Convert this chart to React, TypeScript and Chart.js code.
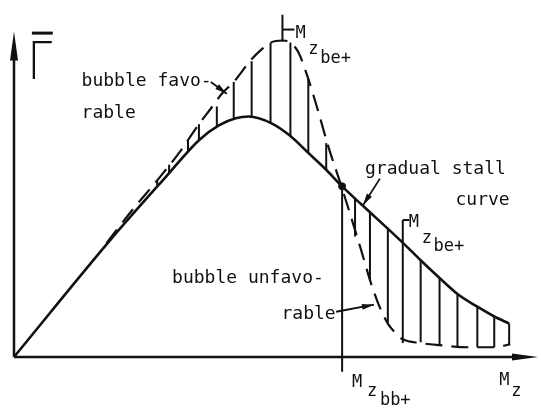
import React, { useEffect, useRef } from "react";
import { Chart, registerables } from "chart.js";

Chart.register(...registerables);

const INK = "#111111";

// Gradual stall curve: circulation Γ against Mz
const stallMz = [0, 19.6, 30.6, 37.2, 41.2, 44.6, 47.2, 51.8, 55.6, 59.2, 62.8, 65.8, 69.8, 74.8, 78.6, 81.8, 85.6, 89.2, 93.2, 96.6, 99.6];
const stallGamma = [0, 40, 61, 73.3, 78.3, 80.7, 81.3, 79, 74.7, 69, 63.3, 58, 51.7, 44, 38, 32.7, 26.7, 21.3, 17, 13.7, 11.3];

// Bubble curve (dashed)
const bubbleMz = [18.6, 23.8, 28.8, 33.2, 37.2, 39.6, 41.8, 44.2, 47.6, 49.8, 51.6, 54, 55.6, 57.2, 59.2, 61.2, 63.2, 65.8, 67.8, 69.8, 71.8, 73.6, 75.2, 76.8, 78.2, 81.8, 85.6, 91.2, 96.6, 99.8];
const bubbleGamma = [38.5, 49.7, 59.7, 69, 78.7, 84, 89, 93, 100.3, 104, 106.3, 107, 106.3, 103, 94, 83, 71.3, 58, 47.3, 36.3, 25, 16.7, 11.3, 8, 6, 4.7, 4, 3.3, 3.3, 4.3];

// Hatching, bubble favorable (bubble curve above stall curve)
const favHatchMz = [28.8, 31.2, 35, 37.2, 40.8, 44.2, 47.8, 51.6, 55.6, 59.2, 62.8];
const favHatchLow = [57.6, 62, 69.7, 73.3, 78, 80.5, 81.2, 79.3, 74.7, 69, 63.3];
const favHatchHigh = [59.7, 65, 73, 78.7, 84.7, 93, 100, 106.3, 106.3, 94, 72.3];

// Hatching, bubble unfavorable (bubble curve below stall curve)
const unfavHatchMz = [68.6, 71.6, 75.2, 81.8, 85.6, 89.2, 93.2, 96.6, 99.6];
const unfavHatchHigh = [53.5, 48.9, 43.4, 32.7, 26.7, 21.3, 17, 13.7, 11.3];
const unfavHatchLow = [40.7, 26.3, 11.7, 5, 4, 3.7, 3.3, 3.3, 4];

// Characteristic Mz values
const mzBb = 66;
const mzBbGamma = 57.7;
const mzBbFoot = -5;
const mzBeUpper = 54;
const mzBeUpperSpan = [106.7, 115.7];
const mzBeLower = 78.2;
const mzBeLowerSpan = [4.7, 46.3];

// Axis extents
const xAxisEnd = 105;
const yAxisEnd = 110;

type Piece = { text: string; x: number; y: number; size: number };

const textPieces: Piece[] = [
  { text: "bubble favo-", x: 13.6, y: 91.7, size: 18 },
  { text: "rable", x: 13.6, y: 80.7, size: 18 },
  { text: "gradual stall", x: 70.6, y: 61.7, size: 18 },
  { text: "curve", x: 88.8, y: 51.3, size: 18 },
  { text: "bubble unfavo-", x: 31.8, y: 25, size: 18 },
  { text: "rable", x: 53.8, y: 13, size: 18 },
  // Mz_be+ (upper)
  { text: "M", x: 56.6, y: 107.7, size: 17 },
  { text: "z", x: 59.2, y: 102.3, size: 17 },
  { text: "be+", x: 61.6, y: 99.3, size: 17 },
  // Mz_be+ (lower)
  { text: "M", x: 79.4, y: 44, size: 17 },
  { text: "z", x: 82, y: 38.7, size: 17 },
  { text: "be+", x: 84.4, y: 35.7, size: 17 },
  // Mz_bb+
  { text: "M", x: 68, y: -10, size: 17 },
  { text: "z", x: 71, y: -13.3, size: 17 },
  { text: "bb+", x: 73.6, y: -16.3, size: 17 },
  // Axis title Mz
  { text: "M", x: 97.6, y: -9.3, size: 17 },
  { text: "z", x: 100, y: -13.3, size: 17 },
];

// Pointer arrows from the captions to the curves
const pointers = [
  { from: [39.6, 93], to: [42.8, 89] },
  { from: [73.6, 60.3], to: [70.2, 51.3] },
  { from: [64.8, 15.3], to: [72.4, 17.7] },
];

const pts = (xs: number[], ys: number[]) => xs.map((x, i) => ({ x, y: ys[i] }));

const seg = (x0: number, y0: number, x1: number, y1: number) => [
  { x: x0, y: y0 },
  { x: x1, y: y1 },
];

const line = (data: { x: number; y: number }[], extra: Record<string, unknown> = {}) => ({
  data,
  showLine: true,
  borderColor: INK,
  backgroundColor: INK,
  borderWidth: 2,
  pointRadius: 0,
  tension: 0,
  clip: false,
  ...extra,
});

function arrowHead(
  ctx: CanvasRenderingContext2D,
  fx: number,
  fy: number,
  tx: number,
  ty: number,
  len: number,
  half: number
) {
  const dx = tx - fx;
  const dy = ty - fy;
  const d = Math.hypot(dx, dy) || 1;
  const ux = dx / d;
  const uy = dy / d;
  const bx = tx - ux * len;
  const by = ty - uy * len;
  ctx.beginPath();
  ctx.moveTo(tx, ty);
  ctx.lineTo(bx - uy * half, by + ux * half);
  ctx.lineTo(bx + uy * half, by - ux * half);
  ctx.closePath();
  ctx.fill();
}

const decorPlugin = {
  id: "decor",
  afterDatasetsDraw(chart: Chart) {
    const ctx = chart.ctx;
    const xs = chart.scales.x;
    const ys = chart.scales.y;
    const X = (v: number) => xs.getPixelForValue(v);
    const Y = (v: number) => ys.getPixelForValue(v);
    ctx.save();
    ctx.strokeStyle = INK;
    ctx.fillStyle = INK;

    // axes with arrow heads
    ctx.lineWidth = 2.5;
    ctx.beginPath();
    ctx.moveTo(X(0), Y(0));
    ctx.lineTo(X(xAxisEnd) - 20, Y(0));
    ctx.moveTo(X(0), Y(0));
    ctx.lineTo(X(0), Y(yAxisEnd) + 20);
    ctx.stroke();
    arrowHead(ctx, X(0), Y(0), X(xAxisEnd) + 2, Y(0), 26, 3.5);
    arrowHead(ctx, X(0), Y(0), X(0), Y(yAxisEnd), 29, 4);

    // pointer arrows
    ctx.lineWidth = 1.8;
    for (const p of pointers) {
      const fx = X(p.from[0]);
      const fy = Y(p.from[1]);
      const tx = X(p.to[0]);
      const ty = Y(p.to[1]);
      ctx.beginPath();
      ctx.moveTo(fx, fy);
      ctx.lineTo(tx, ty);
      ctx.stroke();
      arrowHead(ctx, fx, fy, tx, ty, 12, 3);
    }

    // captions
    ctx.textBaseline = "alphabetic";
    ctx.textAlign = "left";
    for (const t of textPieces) {
      ctx.font = `${t.size}px "DejaVu Sans Mono"`;
      ctx.fillText(t.text, X(t.x), Y(t.y));
    }

    // ordinate title: Γ with an overbar
    ctx.save();
    ctx.translate(X(2.8), Y(94));
    ctx.scale(0.85, 1);
    ctx.font = '300 53px Lato, "DejaVu Sans"';
    ctx.fillText("Γ", 0, 0);
    ctx.restore();
    ctx.lineWidth = 3;
    ctx.beginPath();
    ctx.moveTo(X(3.6), Y(109.5));
    ctx.lineTo(X(7.8), Y(109.5));
    ctx.stroke();

    ctx.restore();
  },
};

export default function App() {
  const ref = useRef<HTMLCanvasElement | null>(null);

  useEffect(() => {
    if (!ref.current) return;
    const datasets: any[] = [];
    datasets.push(line(pts(stallMz, stallGamma), { borderWidth: 2.6, cubicInterpolationMode: "monotone" }));
    datasets.push(line(pts(bubbleMz, bubbleGamma), { borderWidth: 2.2, borderDash: [17, 9], cubicInterpolationMode: "monotone" }));
    favHatchMz.forEach((m, i) => datasets.push(line(seg(m, favHatchLow[i], m, favHatchHigh[i]))));
    unfavHatchMz.forEach((m, i) => datasets.push(line(seg(m, unfavHatchHigh[i], m, unfavHatchLow[i]))));
    // Mz_bb+ marker
    datasets.push(line(seg(mzBb, mzBbGamma, mzBb, mzBbFoot)));
    datasets.push({
      data: [{ x: mzBb, y: mzBbGamma }],
      showLine: false,
      pointRadius: 3.5,
      pointBackgroundColor: INK,
      pointBorderColor: INK,
      clip: false,
    });
    // Mz_be+ markers
    datasets.push(line(seg(mzBeUpper, mzBeUpperSpan[0], mzBeUpper, mzBeUpperSpan[1])));
    datasets.push(line(seg(mzBeUpper, 110.7, mzBeUpper + 2.4, 110.7)));
    datasets.push(line(seg(mzBeLower, mzBeLowerSpan[0], mzBeLower, mzBeLowerSpan[1])));
    datasets.push(line(seg(mzBeLower, mzBeLowerSpan[1], mzBeLower + 1.3, mzBeLowerSpan[1])));

    const chart = new Chart(ref.current, {
      type: "scatter",
      data: { datasets },
      options: {
        animation: false,
        responsive: false,
        events: [],
        layout: { padding: { left: 14, right: 2, top: 0, bottom: 51 } },
        scales: {
          x: { type: "linear", min: 0, max: 105, display: false },
          y: { type: "linear", min: 0, max: 119, display: false },
        },
        plugins: { legend: { display: false }, tooltip: { enabled: false } },
      },
      plugins: [decorPlugin],
    });
    return () => chart.destroy();
  }, []);

  return (
    <div style={{ position: "absolute", left: 0, top: 0, width: 541, height: 408, background: "#fff" }}>
      <canvas ref={ref} width={541} height={408} />
    </div>
  );
}
